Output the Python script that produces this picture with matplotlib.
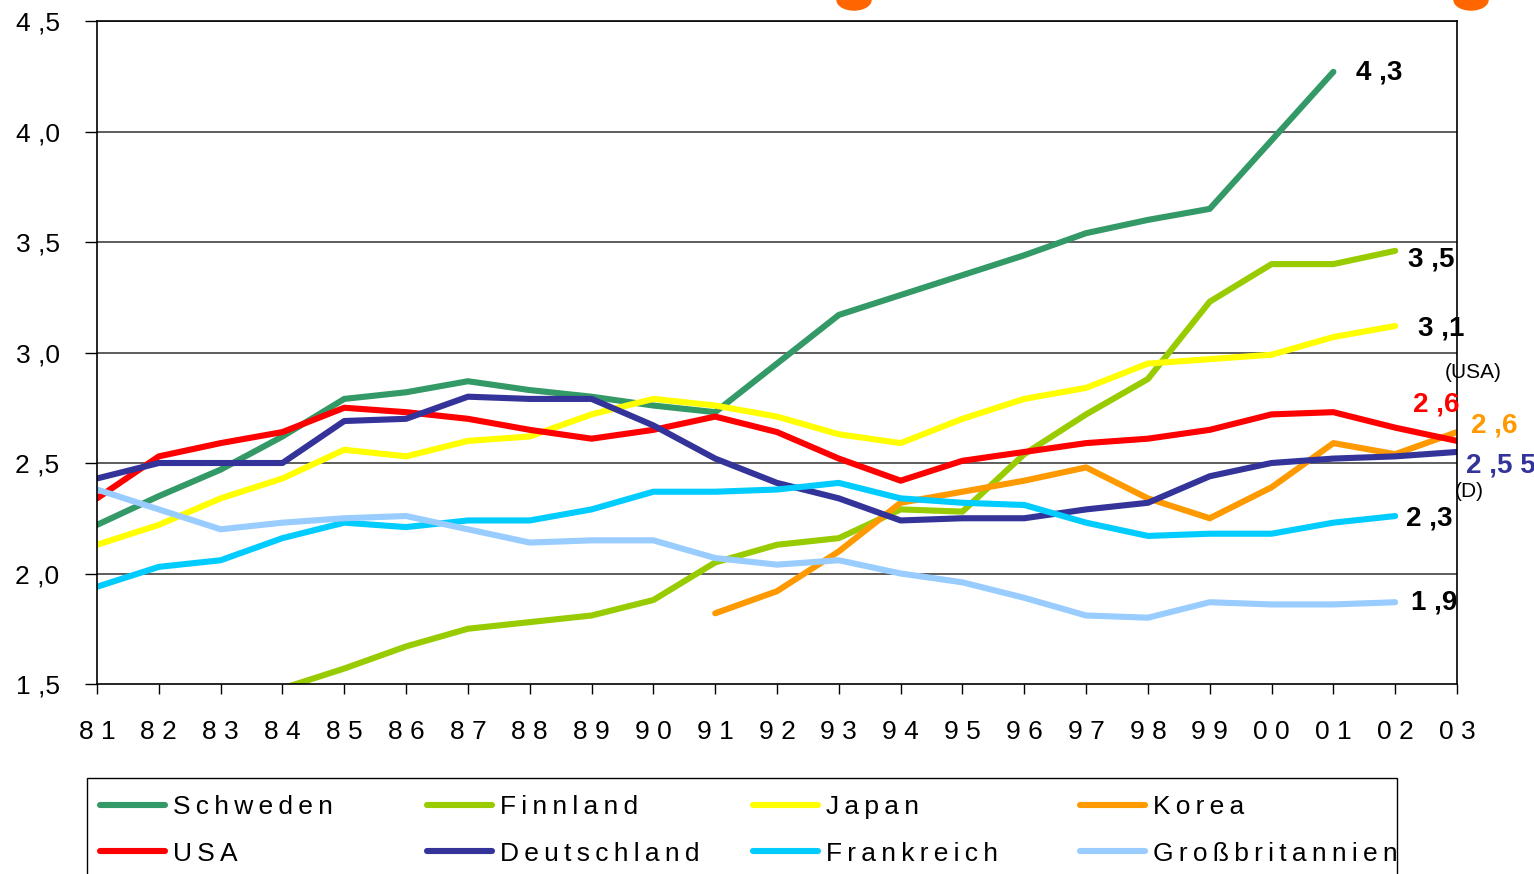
import numpy as np
import matplotlib
matplotlib.use("Agg")
import matplotlib.pyplot as plt
from matplotlib.patches import Rectangle, Ellipse

plt.rcParams['font.family'] = ['Liberation Sans', 'DejaVu Sans']

# years 1981 - 2003
years = ['81', '82', '83', '84', '85', '86', '87', '88', '89', '90', '91', '92',
         '93', '94', '95', '96', '97', '98', '99', '00', '01', '02', '03']
nan = np.nan

schweden = [2.22, 2.35, 2.47, 2.62, 2.79, 2.82, 2.87, 2.83, 2.80, 2.76, 2.73, 2.95,
            3.17, 3.26, 3.35, 3.44, 3.54, 3.60, 3.65, 3.96, 4.27, nan, nan]
finnland = [nan, nan, nan, 1.48, 1.57, 1.67, 1.75, 1.78, 1.81, 1.88, 2.05, 2.13,
            2.16, 2.29, 2.28, 2.54, 2.72, 2.88, 3.23, 3.40, 3.40, 3.46, nan]
japan = [2.13, 2.22, 2.34, 2.43, 2.56, 2.53, 2.60, 2.62, 2.72, 2.79, 2.76, 2.71,
         2.63, 2.59, 2.70, 2.79, 2.84, 2.95, 2.97, 2.99, 3.07, 3.12, nan]
korea = [nan, nan, nan, nan, nan, nan, nan, nan, nan, nan, 1.82, 1.92,
         2.10, 2.32, 2.37, 2.42, 2.48, 2.34, 2.25, 2.39, 2.59, 2.54, 2.64]
usa = [2.34, 2.53, 2.59, 2.64, 2.75, 2.73, 2.70, 2.65, 2.61, 2.65, 2.71, 2.64,
       2.52, 2.42, 2.51, 2.55, 2.59, 2.61, 2.65, 2.72, 2.73, 2.66, 2.60]
deutschland = [2.43, 2.50, 2.50, 2.50, 2.69, 2.70, 2.80, 2.79, 2.79, 2.67, 2.52, 2.41,
               2.34, 2.24, 2.25, 2.25, 2.29, 2.32, 2.44, 2.50, 2.52, 2.53, 2.55]
frankreich = [1.94, 2.03, 2.06, 2.16, 2.23, 2.21, 2.24, 2.24, 2.29, 2.37, 2.37, 2.38,
              2.41, 2.34, 2.32, 2.31, 2.23, 2.17, 2.18, 2.18, 2.23, 2.26, nan]
gb = [2.38, 2.29, 2.20, 2.23, 2.25, 2.26, 2.20, 2.14, 2.15, 2.15, 2.07, 2.04,
      2.06, 2.00, 1.96, 1.89, 1.81, 1.80, 1.87, 1.86, 1.86, 1.87, nan]

names = ['Schweden', 'Finnland', 'Japan', 'Korea',
         'USA', 'Deutschland', 'Frankreich', 'Großbritannien']
series = [schweden, finnland, japan, korea, usa, deutschland, frankreich, gb]
colors = ['#339966', '#99cc00', '#ffff00', '#ff9900',
          '#ff0000', '#333399', '#00ccff', '#99ccff']

thin = '\u2009'

fig = plt.figure(figsize=(15.34, 8.74), dpi=100)
ax = fig.add_axes([97 / 1534, 1 - 684 / 874, 1360 / 1534, 663 / 874])

x = np.arange(len(years))
lines = {}
for name, vals, c in zip(names, series, colors):
    ln, = ax.plot(x, vals, color=c, lw=4.4, solid_capstyle='round',
                  solid_joinstyle='round')
    lines[name] = ln

ax.set_xlim(0, len(years) - 1)
ax.set_ylim(1.5, 4.5)
yt = [1.5, 2.0, 2.5, 3.0, 3.5, 4.0, 4.5]
ax.set_yticks(yt)
ax.set_yticklabels([f"{v:.1f}".replace('.', ' ,') for v in yt])
ax.set_xticks(x)
ax.set_xticklabels([' '.join(y) for y in years])
for v in yt[1:]:
    ax.axhline(v, color='#505050', lw=1.3, zorder=0)
ax.tick_params(axis='y', length=9, width=1, pad=18, labelsize=19)
ax.tick_params(axis='x', length=7, width=1, pad=19, labelsize=19)
for s in ax.spines.values():
    s.set_color('black')
    s.set_linewidth(1.2)

# end labels
bold = dict(fontsize=20, fontweight='bold', va='center', ha='left', clip_on=False)
ax.text(20.36, 4.265, '4 ,3', color='black', **bold)
ax.text(21.21, 3.42, '3 ,5', color='black', **bold)
ax.text(21.37, 3.107, '3 ,1', color='black', **bold)
ax.text(21.29, 2.765, '2 ,6', color='#ff0000', **bold)
ax.text(22.22, 2.67, '2 ,6', color='#ff9900', **bold)
ax.text(22.15, 2.49, '2 ,5 5', color='#333399', **bold)
ax.text(21.17, 2.25, '2 ,3', color='black', **bold)
ax.text(21.25, 1.87, '1 ,9', color='black', **bold)
ax.text(21.8, 2.91, '(USA)', fontsize=15, va='center', ha='left', clip_on=False)
ax.text(21.97, 2.37, '(D)', fontsize=15, va='center', ha='left', clip_on=False)

# legend frame and four legend columns
fig.add_artist(Rectangle((87 / 1534, -0.05), 1310 / 1534, 0.05 + 96 / 874,
                         transform=fig.transFigure, fill=False, ec='black', lw=1))
col_x = [100, 427, 753, 1080]
cols = [('Schweden', 'USA'), ('Finnland', 'Deutschland'),
        ('Japan', 'Frankreich'), ('Korea', 'Großbritannien')]
for cx, pair in zip(col_x, cols):
    hs = [lines[n] for n in pair]
    fig.legend(hs, [thin.join(n) for n in pair], loc='upper left',
               bbox_to_anchor=(cx / 1534, 1 - 795 / 874), frameon=False,
               fontsize=19, handlelength=2.46, handletextpad=0.3,
               labelspacing=0.86, borderpad=0, borderaxespad=0)

# orange fragments from the cut-off title
for ex in [854, 1471]:
    fig.add_artist(Ellipse((ex / 1534, 1.0), 34 / 1534, 20 / 874,
                           transform=fig.transFigure, color='#ff6600'))

fig.savefig('out.png', dpi=100)
